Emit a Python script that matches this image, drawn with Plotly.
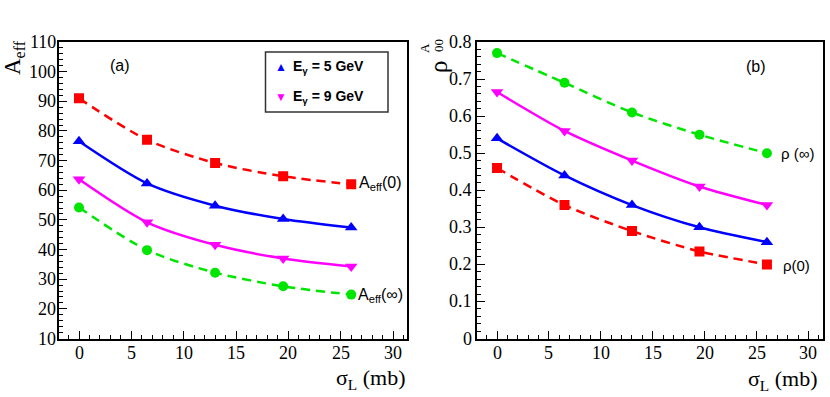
import plotly.graph_objects as go

W, H = 830, 397

sigma_L = [0, 6.5, 13, 19.5, 26]

# Panel (a): A_eff
aeff_0 = [91.0, 77.0, 69.2, 64.7, 62.0]
aeff_5gev = [76.5, 62.3, 54.8, 50.3, 47.4]
aeff_9gev = [63.7, 49.2, 41.6, 37.0, 34.3]
aeff_inf = [54.2, 39.8, 32.2, 27.6, 24.8]

# Panel (b): rho_00^A
rho_inf = [0.77, 0.69, 0.61, 0.55, 0.50]
rho_9gev = [0.665, 0.56, 0.48, 0.41, 0.36]
rho_5gev = [0.54, 0.44, 0.36, 0.30, 0.26]
rho_0 = [0.46, 0.36, 0.29, 0.235, 0.20]

# tick labels
x_ticks = [0, 5, 10, 15, 20, 25, 30]
x_tick_labels = ["0", "5", "10", "15", "20", "25", "30"]
ya_ticks = [10, 20, 30, 40, 50, 60, 70, 80, 90, 100, 110]
ya_tick_labels = ["10", "20", "30", "40", "50", "60", "70", "80", "90", "100", "110"]
yb_ticks = [0, 0.1, 0.2, 0.3, 0.4, 0.5, 0.6, 0.7, 0.8]
yb_tick_labels = ["0", "0.1", "0.2", "0.3", "0.4", "0.5", "0.6", "0.7", "0.8"]

legend_labels = ["<b>E<sub>γ</sub> = 5 GeV</b>", "<b>E<sub>γ</sub> = 9 GeV</b>"]

RED, BLUE, MAG, GREEN = "#ff0000", "#0000ff", "#ff00ff", "#00e600"
SERIF = "Liberation Serif"
SANS = "Liberation Sans"

def px_x(p):
    return p / W

def px_y(p):
    return 1 - p / H

fig = go.Figure()

def add_series(x, y, color, symbol, dash, xa, ya, size=10):
    fig.add_trace(go.Scatter(
        x=x, y=y, mode="lines+markers", line=dict(color=color, width=2.5, dash=dash, shape="spline", smoothing=0.8),
        marker=dict(color=color, symbol=symbol, size=size), xaxis=xa, yaxis=ya, showlegend=False))

dash = "9px,6px"
add_series(sigma_L, aeff_0, RED, "square", dash, "x", "y")
add_series(sigma_L, aeff_5gev, BLUE, "triangle-up", "solid", "x", "y", 11)
add_series(sigma_L, aeff_9gev, MAG, "triangle-down", "solid", "x", "y", 11)
add_series(sigma_L, aeff_inf, GREEN, "circle", dash, "x", "y")

add_series(sigma_L, rho_inf, GREEN, "circle", dash, "x2", "y2")
add_series(sigma_L, rho_9gev, MAG, "triangle-down", "solid", "x2", "y2", 11)
add_series(sigma_L, rho_5gev, BLUE, "triangle-up", "solid", "x2", "y2", 11)
add_series(sigma_L, rho_0, RED, "square", dash, "x2", "y2")

def xaxis(domain, rng):
    return dict(domain=domain, range=rng, showline=True, linecolor="black", linewidth=1.5, mirror=True,
                ticks="inside", ticklen=8, tickwidth=1.2, tickcolor="black", tickmode="array", tickvals=x_ticks,
                minor=dict(ticks="inside", ticklen=4, dtick=1, tick0=0, tickcolor="black", tickwidth=1.2),
                showgrid=False, zeroline=False, showticklabels=False)

def yaxis(domain, rng, vals, mdtick, anchor):
    return dict(domain=domain, range=rng, showline=True, linecolor="black", linewidth=1.5, mirror=True,
                ticks="inside", ticklen=8, tickwidth=1.2, tickcolor="black", tickmode="array", tickvals=vals,
                minor=dict(ticks="inside", ticklen=4, dtick=mdtick, tick0=0, tickcolor="black", tickwidth=1.2),
                showgrid=False, zeroline=False, anchor=anchor, showticklabels=False)

ydom = [px_y(338.5), px_y(42)]
fig.update_layout(
    width=W, height=H, margin=dict(l=0, r=0, t=0, b=0),
    paper_bgcolor="white", plot_bgcolor="white",
    font=dict(family=SERIF, size=17, color="black"),
    xaxis=xaxis([px_x(59), px_x(407)], [-1.91, 31.33]),
    yaxis=yaxis(ydom, [10, 110], ya_ticks, 2, "x"),
    xaxis2=dict(**xaxis([px_x(477), px_x(823)], [-1.93, 31.4]), anchor="y2"),
    yaxis2=yaxis(ydom, [0, 0.8], yb_ticks, 0.02, "x2"),
    showlegend=False,
)

ann = []
def A(x, y, text, size, family=SANS, xanchor="center", angle=0, color="black"):
    ann.append(dict(x=px_x(x), y=px_y(y), xref="paper", yref="paper", text=text, showarrow=False,
                    font=dict(family=family, size=size, color=color), xanchor=xanchor, yanchor="middle",
                    textangle=angle))

# tick labels (serif, as in the reference)
tfont = dict(family=SERIF, size=18, color="black")
for xr in ["x", "x2"]:
    for v, t in zip(x_ticks, x_tick_labels):
        ann.append(dict(x=v, y=px_y(353), xref=xr, yref="paper", text=t, showarrow=False, font=tfont,
                        xanchor="center", yanchor="middle"))
for v, t in zip(ya_ticks, ya_tick_labels):
    ann.append(dict(x=px_x(58), y=v, xref="paper", yref="y", text=t, showarrow=False, font=tfont,
                    xanchor="right", yanchor="middle"))
for v, t in zip(yb_ticks, yb_tick_labels):
    ann.append(dict(x=px_x(474), y=v, xref="paper", yref="y2", text=t, showarrow=False, font=tfont,
                    xanchor="right", yanchor="middle"))

A(120, 65, "(a)", 16)
A(756, 67, "(b)", 16)
A(357, 183, "A<sub>eff</sub>(0)", 16, xanchor="left")
A(356, 295, "A<sub>eff</sub>(∞)", 16, xanchor="left")
A(779, 154, "ρ (∞)", 15, xanchor="left")
A(781, 265, "ρ(0)", 15, xanchor="left")

# legend (box + entries)
fig.add_shape(type="rect", xref="paper", yref="paper", x0=px_x(265.5), x1=px_x(388), y0=px_y(112), y1=px_y(52),
              line=dict(color="#333333", width=1.5), fillcolor="white", layer="below")
A(281, 67, "▲", 12, color=BLUE)
A(281, 97, "▼", 12, color=MAG)
A(291, 67, legend_labels[0], 14, xanchor="left")
A(291, 97, legend_labels[1], 14, xanchor="left")

# axis titles
A(14, 58, "A<sub>eff</sub>", 23, family=SERIF, angle=-90)
A(439, 67, "ρ", 25, family=SERIF, angle=-90)
A(424, 48, "A", 13, family=SERIF, angle=-90)
A(439, 46, "00", 13, family=SERIF, angle=-90)
ann.append(dict(x=px_x(408), y=px_y(379), xref="paper", yref="paper", text="σ<sub>L</sub> (mb)", showarrow=False,
                font=dict(family=SERIF, size=22, color="black"), xanchor="right", yanchor="middle"))
ann.append(dict(x=px_x(820), y=px_y(380), xref="paper", yref="paper", text="σ<sub>L</sub> (mb)", showarrow=False,
                font=dict(family=SERIF, size=22, color="black"), xanchor="right", yanchor="middle"))
fig.update_layout(annotations=ann)

fig.write_html("out.html", config={"displayModeBar": False},
               post_script="document.body.style.margin='0';document.body.style.overflow='hidden';")
